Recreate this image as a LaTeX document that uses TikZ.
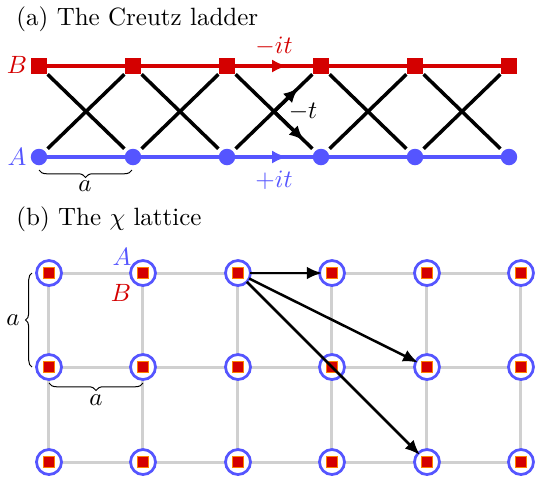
\documentclass[tikz,border=0pt]{standalone}
\usetikzlibrary{arrows.meta,decorations.pathreplacing,calc}
\definecolor{cred}{RGB}{212,0,0}
\definecolor{cblue}{RGB}{85,85,255}
\definecolor{cgray}{RGB}{208,208,208}
\definecolor{corange}{RGB}{255,130,0}
\begin{document}
\begin{tikzpicture}[x=0.4pt,y=-0.4pt,
  bsite/.style={rectangle,fill=cred,minimum size=6.6pt,inner sep=0pt,outer sep=0pt},
  asite/.style={circle,fill=cblue,minimum size=6.6pt,inner sep=0pt,outer sep=0pt},
  hop/.style={line width=1.4pt,shorten <=4.8pt,shorten >=4.8pt},
  hoptip/.style={line width=1.4pt,-{Latex[length=6pt,width=5.2pt]}},
  ring/.style={circle,draw=cblue,fill=white,line width=1.1pt,minimum size=10pt,inner sep=0pt,outer sep=0pt},
  sq/.style={rectangle,fill=cred,draw=corange,line width=0.4pt,minimum size=4.6pt,inner sep=0pt},
  grid/.style={cgray,line width=1.2pt},
  far/.style={line width=1pt,-{Latex[length=6pt,width=5pt]},shorten >=-1pt},
  bracebelow/.style={decorate,decoration={brace,amplitude=3pt},line width=0.4pt},
  title/.style={anchor=base west,inner sep=0pt}
]
\useasboundingbox (0,0) rectangle (536,476);
% ---------------- (a) -----------------
\node[title] (ta) at (16,25) {(a) The Creutz ladder};
\foreach \i/\x in {0/39,1/133,2/227,3/321,4/415,5/509}{
  \node[bsite] (B\i) at (\x,66) {};
  \node[asite] (A\i) at (\x,157) {};
}
\draw[cred,line width=1.4pt] (B0.center) -- (B5.center);
\draw[cblue,line width=1.4pt] (A0.center) -- (A5.center);
\foreach \i [evaluate=\i as \j using int(\i+1)] in {0,...,4}{
  \draw[hop] (B\i.center) -- (A\j.center);
  \draw[hop] (A\i.center) -- (B\j.center);
}
\draw[hoptip,cred] (B2.center) -- ($(B2)!0.64!(B3)$);
\draw[hoptip,cblue] (A2.center) -- ($(A2)!0.64!(A3)$);
\draw[hoptip] ($(A2)!0.5!(B3)$) -- ($(A2)!0.76!(B3)$);
\draw[hoptip] ($(B2)!0.5!(A3)$) -- ($(B2)!0.82!(A3)$);
\node[cred] (lB) at (17,65) {$B$};
\node[cblue] (lA) at (17,157) {$A$};
\node[cred] (lmit) at (274,46) {$-it$};
\node[cblue] (lpit) at (274,180) {$+it$};
\node (lmt) at (303,112) {$-t$};
\coordinate (ba1) at (132,170);
\coordinate (ba0) at (39,170);
\draw[bracebelow] (ba1) -- (ba0);
\node (la) at (85,186) {$a$};
% ---------------- (b) -----------------
\node[title] (tb) at (16,225) {(b) The $\chi$ lattice};
\foreach \j/\y in {0/273,1/367,2/462}{
  \draw[grid] (49,\y) -- (521,\y);
}
\foreach \i/\x in {0/49,1/143,2/238,3/332,4/427,5/521}{
  \draw[grid] (\x,273) -- (\x,462);
}
\foreach \i/\x in {0/49,1/143,2/238,3/332,4/427,5/521}{
  \foreach \j/\y in {0/273,1/367,2/462}{
    \node[ring] (C\i\j) at (\x,\y) {};
    \node[sq] (S\i\j) at (\x,\y) {};
  }
}
\draw[far] (C20) -- (C30);
\draw[far] (C20) -- (C41);
\draw[far] (C20) -- (C42);
\node[cblue] (lbA) at (122,257) {$A$};
\node[cred] (lbB) at (121,293) {$B$};
\coordinate (bl0) at (32,367);
\coordinate (bl1) at (32,273);
\draw[decorate,decoration={brace,amplitude=2.6pt},line width=0.4pt] (bl0) -- (bl1);
\node (lba1) at (13,320) {$a$};
\coordinate (bb1) at (143,383);
\coordinate (bb0) at (49,383);
\draw[bracebelow] (bb1) -- (bb0);
\node (lba2) at (96,400) {$a$};
\end{tikzpicture}
\end{document}
